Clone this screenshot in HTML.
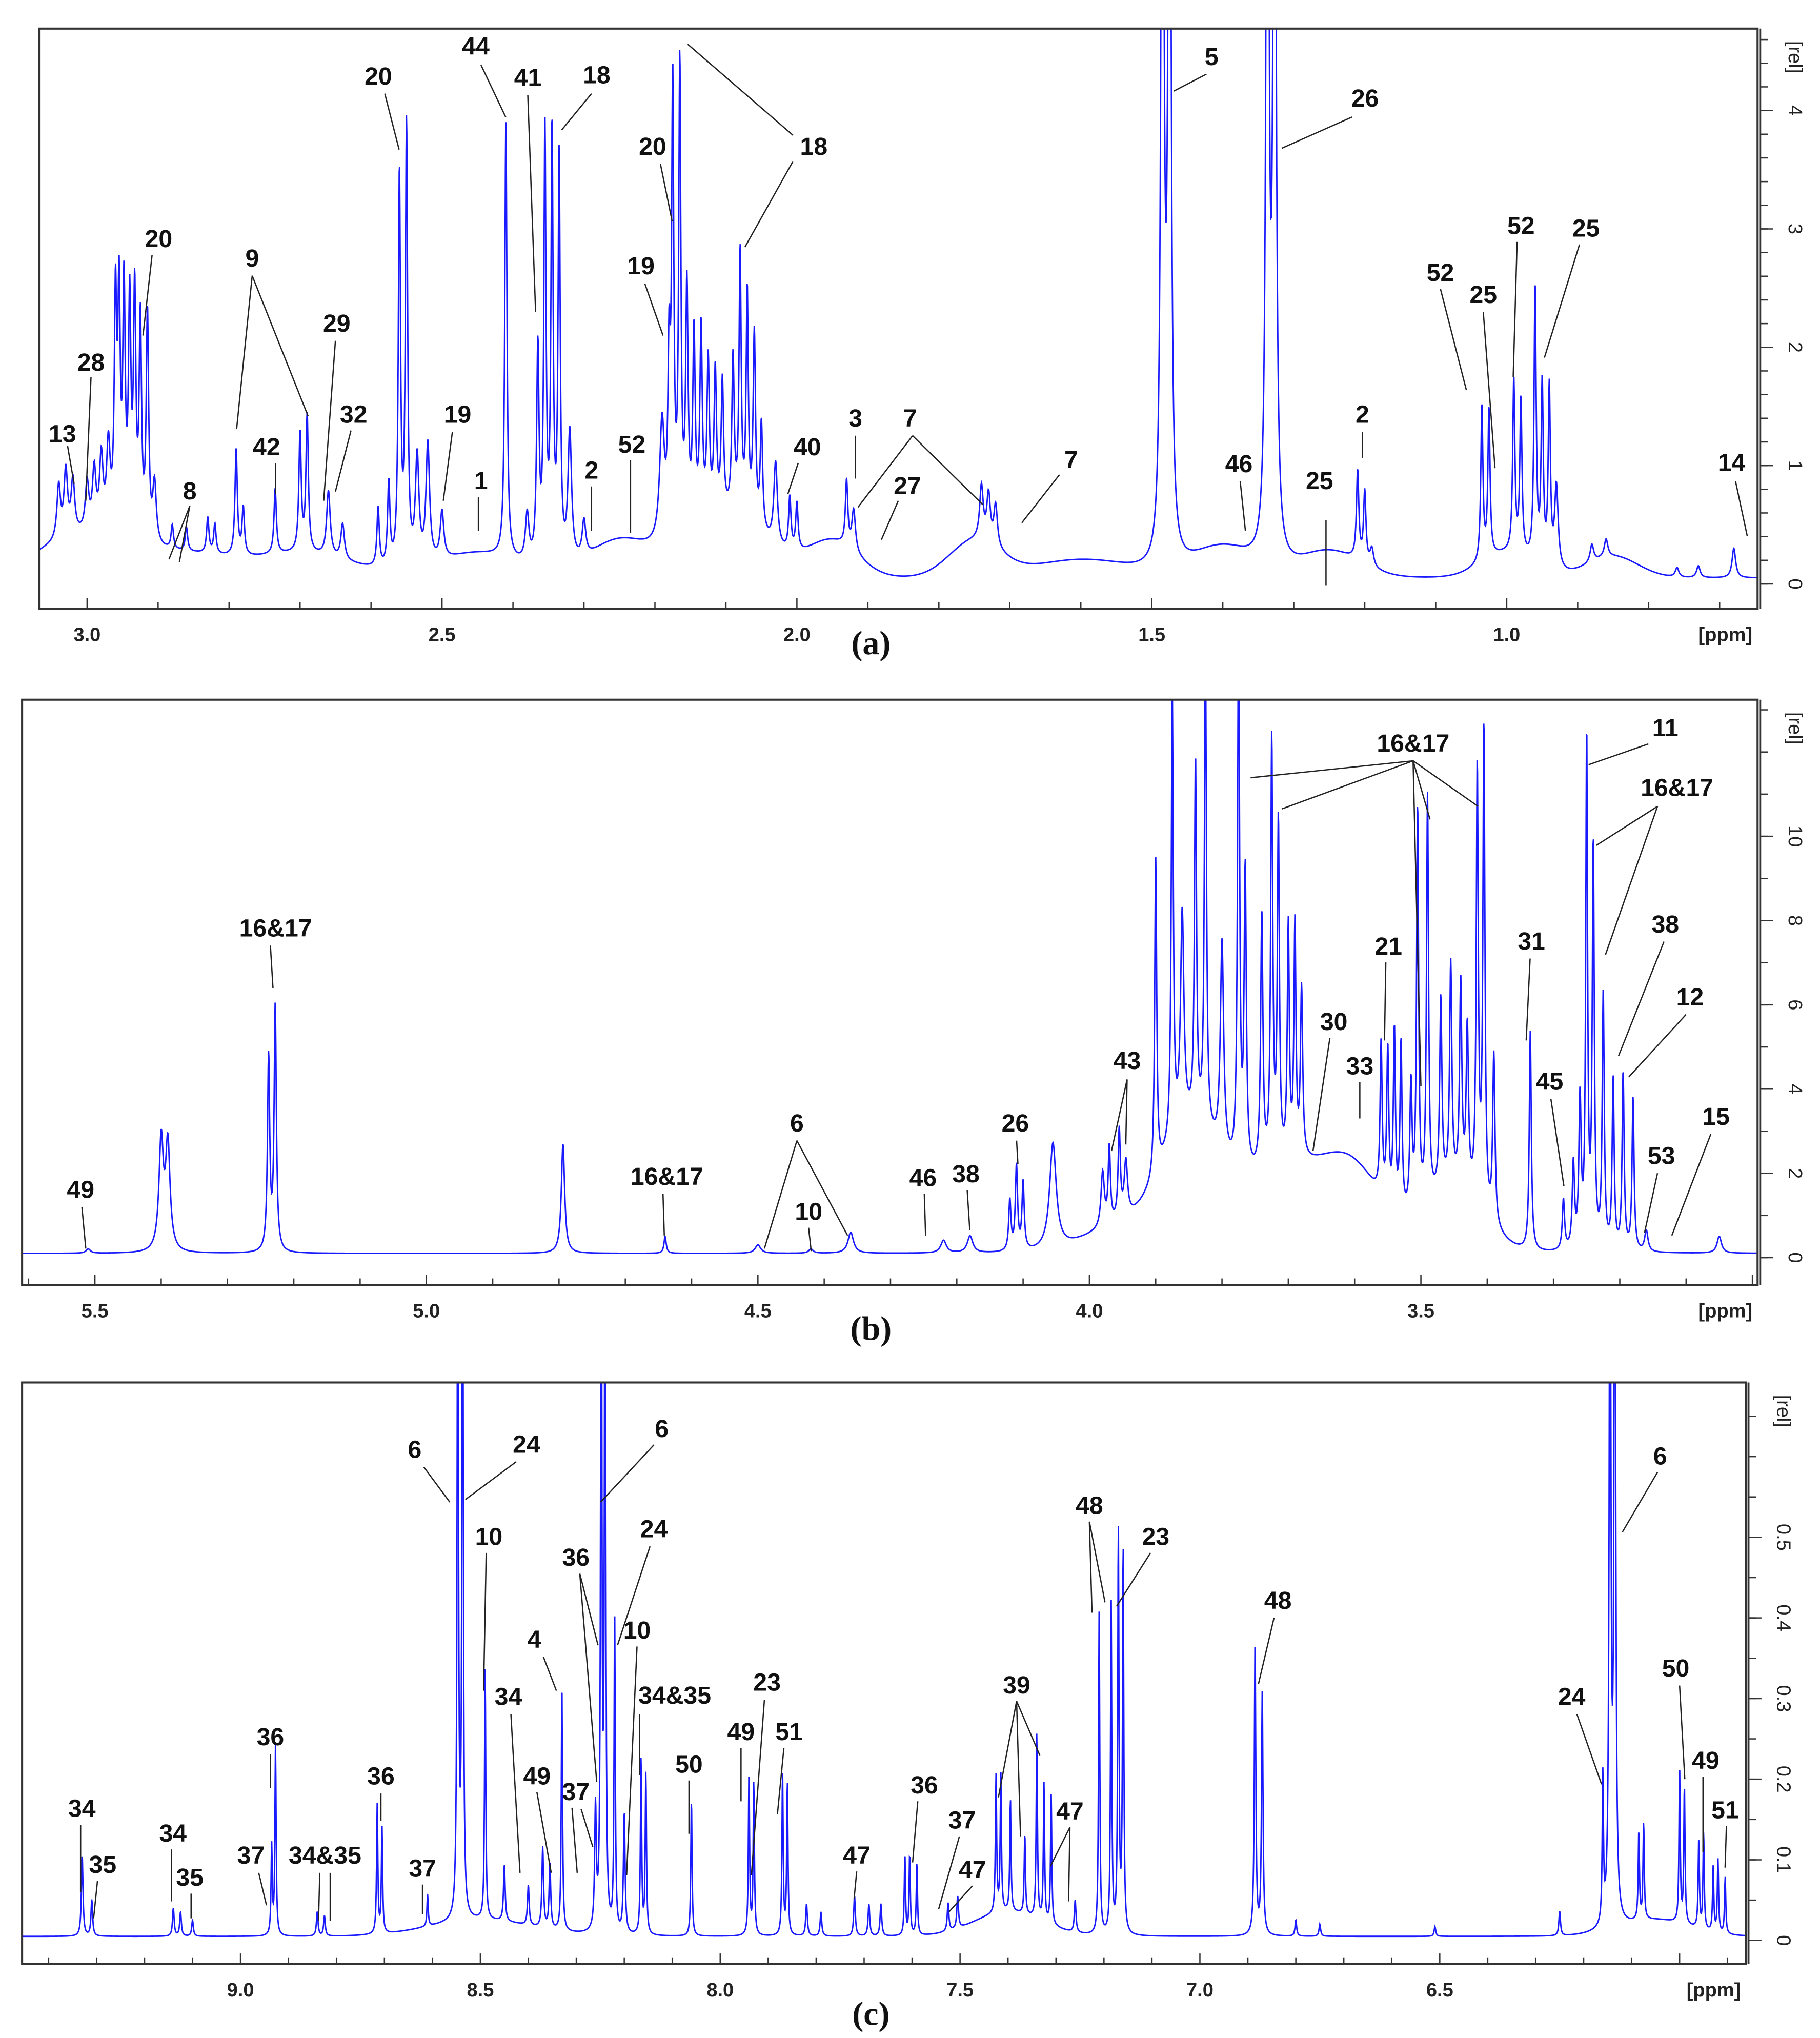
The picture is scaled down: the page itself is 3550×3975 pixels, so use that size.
<!DOCTYPE html>
<html><head><meta charset="utf-8"><style>
html,body{margin:0;padding:0;background:#fff;}
svg{display:block;}
text{font-family:"Liberation Sans",sans-serif;}
.lab{font-weight:bold;font-size:19px;fill:#111;text-anchor:middle;}
.tick{font-size:15px;fill:#222;}
.pl{font-family:"Liberation Serif",serif;font-weight:bold;font-size:26px;fill:#111;text-anchor:middle;}
</style></head><body>
<svg id="chart" width="3550" height="3975" viewBox="0 0 1400 1567" preserveAspectRatio="none" xmlns="http://www.w3.org/2000/svg"></svg>
<script>
// ---------- data ----------
// peaks: [ppm, height, halfwidth]
const peaksA = [
[3.04,0.45,0.003],[3.03,0.55,0.003],[3.02,0.45,0.003],[3.0,0.4,0.003],[2.99,0.5,0.003],[2.98,0.6,0.003],[2.97,0.7,0.003],
[2.96,1.9,0.002],[2.955,1.9,0.002],[2.948,2.0,0.002],[2.94,1.9,0.002],[2.933,2.0,0.002],[2.925,1.8,0.002],[2.915,1.9,0.002],[2.905,0.5,0.003],
[2.88,0.2,0.002],[2.86,0.2,0.002],[2.83,0.3,0.002],[2.82,0.25,0.002],
[2.79,0.9,0.002],[2.78,0.4,0.002],[2.735,0.55,0.002],[2.70,1.0,0.002],[2.69,1.15,0.002],[2.66,0.55,0.003],[2.64,0.3,0.003],
[2.59,0.5,0.002],[2.575,0.7,0.002],[2.56,3.3,0.0018],[2.55,3.7,0.0018],[2.535,0.9,0.003],[2.52,1.0,0.003],[2.50,0.4,0.003],
[2.41,3.7,0.0018],[2.38,0.4,0.003],[2.365,1.8,0.002],[2.355,3.6,0.0018],[2.345,3.6,0.0018],[2.335,3.4,0.0018],[2.32,1.1,0.003],[2.30,0.3,0.003],
[2.19,1.0,0.004],[2.18,1.4,0.002],[2.175,3.7,0.0018],[2.165,3.9,0.0018],[2.155,2.0,0.002],[2.145,1.6,0.002],[2.135,1.6,0.002],[2.125,1.3,0.002],
[2.115,1.2,0.002],[2.105,1.1,0.002],[2.09,1.3,0.002],[2.08,2.2,0.0018],[2.07,1.9,0.0018],[2.06,1.6,0.002],[2.05,0.9,0.002],[2.03,0.7,0.003],
[2.01,0.45,0.002],[2.0,0.4,0.002],[1.93,0.55,0.002],[1.92,0.35,0.003],[1.74,0.45,0.003],[1.73,0.4,0.003],[1.72,0.35,0.003],
[1.485,9,0.0022],[1.475,9,0.0022],[1.337,9,0.0022],[1.327,9,0.0022],
[1.21,0.75,0.002],[1.2,0.6,0.002],[1.19,0.15,0.003],
[1.035,1.3,0.0018],[1.025,1.25,0.0018],[0.99,1.45,0.0018],[0.98,1.3,0.0018],[0.96,2.3,0.0018],[0.95,1.5,0.0018],[0.94,1.5,0.0018],[0.93,0.7,0.003],
[0.88,0.15,0.003],[0.86,0.15,0.003],[0.76,0.08,0.003],[0.73,0.1,0.003],[0.68,0.25,0.003]];
const humpsA = [[3.0,0.35,0.1],[2.85,0.15,0.08],[2.7,0.2,0.1],[2.45,0.2,0.08],[2.25,0.3,0.06],[2.1,0.5,0.08],[1.95,0.3,0.05],[1.75,0.3,0.05],[1.6,0.15,0.1],[1.4,0.25,0.06],[1.25,0.22,0.06],[1.0,0.2,0.05],[0.85,0.18,0.05]];
const peaksB = [
[5.51,0.1,0.004],[5.40,2.6,0.004],[5.39,2.5,0.004],[5.238,4.6,0.002],[5.228,5.8,0.002],[4.794,2.6,0.003],[4.64,0.4,0.002],
[4.5,0.2,0.005],[4.42,0.1,0.004],[4.36,0.5,0.005],[4.22,0.3,0.005],[4.18,0.4,0.005],
[4.12,1.2,0.002],[4.11,2.0,0.002],[4.10,1.6,0.002],[4.055,2.5,0.006],
[3.98,1.3,0.003],[3.97,1.8,0.002],[3.955,2.1,0.002],[3.945,1.3,0.003],
[3.90,7.5,0.0018],[3.875,10.5,0.0018],[3.86,5,0.003],[3.84,8.5,0.0018],[3.825,11.5,0.0018],[3.80,5,0.003],[3.775,13,0.0018],[3.765,7,0.002],
[3.74,6,0.002],[3.725,10,0.0018],[3.715,8,0.0018],[3.70,5.5,0.0018],[3.69,5.5,0.0018],[3.68,4,0.002],
[3.56,3.6,0.0018],[3.55,3.6,0.0018],[3.54,4.2,0.0018],[3.53,4,0.0018],[3.515,3,0.002],
[3.505,9.5,0.0018],[3.49,9.6,0.0018],[3.47,4.5,0.002],[3.455,5.2,0.002],[3.44,4.8,0.002],[3.43,3.8,0.002],
[3.415,10.2,0.0018],[3.405,11.4,0.0018],[3.39,4,0.002],[3.335,5.2,0.0018],
[3.285,1.2,0.002],[3.27,2,0.002],[3.26,3.5,0.002],[3.25,12.1,0.0016],[3.24,9.5,0.0018],[3.225,6,0.0018],[3.21,4,0.0018],[3.195,4.2,0.0018],[3.18,3.6,0.0018],
[3.16,0.5,0.003],[3.05,0.4,0.004]];
const humpsB = [[3.7,2.0,0.12],[3.6,1.2,0.06],[3.85,2.5,0.06],[3.45,1.5,0.06],[3.95,0.6,0.08]];
const peaksC = [
[9.33,0.1,0.002],[9.31,0.045,0.002],[9.14,0.035,0.002],[9.125,0.03,0.002],[9.10,0.02,0.002],
[8.935,0.11,0.0015],[8.927,0.235,0.0015],[8.84,0.03,0.002],[8.825,0.025,0.002],
[8.715,0.16,0.0015],[8.705,0.13,0.0015],[8.61,0.04,0.0015],
[8.547,1.0,0.0015],[8.537,1.0,0.0015],[8.49,0.31,0.0015],[8.45,0.07,0.002],[8.40,0.05,0.002],[8.37,0.1,0.002],[8.355,0.08,0.002],[8.33,0.3,0.0015],
[8.26,0.15,0.002],[8.248,1.0,0.0015],[8.24,1.0,0.0015],[8.22,0.39,0.0015],[8.20,0.15,0.002],[8.165,0.22,0.0015],[8.155,0.2,0.0015],
[8.06,0.17,0.0015],[7.94,0.2,0.0015],[7.93,0.19,0.0015],[7.87,0.2,0.0015],[7.86,0.19,0.0015],[7.82,0.04,0.002],[7.79,0.03,0.002],
[7.72,0.05,0.002],[7.69,0.04,0.002],[7.665,0.04,0.002],[7.615,0.1,0.0015],[7.605,0.1,0.0015],[7.59,0.09,0.0015],[7.525,0.035,0.002],[7.505,0.04,0.002],
[7.425,0.17,0.0015],[7.415,0.17,0.0015],[7.395,0.14,0.0015],[7.365,0.1,0.0015],[7.34,0.23,0.0015],[7.325,0.17,0.0015],[7.31,0.16,0.0015],[7.26,0.04,0.002],
[7.21,0.4,0.0015],[7.185,0.41,0.0015],[7.17,0.5,0.0015],[7.16,0.48,0.0015],
[6.885,0.36,0.0018],[6.87,0.3,0.0018],[6.8,0.02,0.002],[6.75,0.015,0.002],[6.51,0.012,0.002],
[6.25,0.03,0.002],[6.16,0.18,0.0015],[6.145,1.0,0.002],[6.135,1.0,0.002],[6.085,0.11,0.0015],[6.075,0.12,0.0015],
[6.0,0.19,0.0015],[5.99,0.17,0.0015],[5.96,0.11,0.0015],[5.95,0.12,0.0015],[5.93,0.08,0.0015],[5.92,0.09,0.0015],[5.905,0.07,0.0015]];
const humpsC = [[8.5,0.02,0.15],[7.4,0.03,0.1],[6.05,0.02,0.1]];

// axis configs (layout)
const panels = [
 {name:'a',L:30,T:22,R:1352,B:468,p0:3.0,x0:67,pxPer:546,yZero:449,yPer:91,peaks:peaksA,humps:humpsA,base:0.05,
  ticks:[3.0,2.5,2.0,1.5,1.0],tlab:['3.0','2.5','2.0','1.5','1.0'],yt:[0,1,2,3,4],yminor:0.2,ymax:4.8,letter:'(a)',lx:670,ly:503},
 {name:'b',L:17,T:538,R:1352,B:988,p0:5.5,x0:73,pxPer:510,yZero:967,yPer:32.4,peaks:peaksB,humps:humpsB,base:0.1,
  ticks:[5.5,5.0,4.5,4.0,3.5],tlab:['5.5','5.0','4.5','4.0','3.5'],yt:[0,2,4,6,8,10],yminor:1,ymax:13,letter:'(b)',lx:670,ly:1030},
 {name:'c',L:17,T:1063,R:1343,B:1510,p0:9.0,x0:185,pxPer:369,yZero:1492,yPer:620,peaks:peaksC,humps:humpsC,base:0.005,
  ticks:[9.0,8.5,8.0,7.5,7.0,6.5],tlab:['9.0','8.5','8.0','7.5','7.0','6.5'],yt:[0,0.1,0.2,0.3,0.4,0.5],yminor:0.05,ymax:0.68,letter:'(c)',lx:670,ly:1557}
];
const labelsA=[['13',48,340],['28',70,285],['20',122,190],['9',194,205],['42',205,350],['8',146,384],['29',259,255],['32',272,325],['19',352,325],['1',370,376],['2',455,368],['52',486,348],['20',291,65],['44',366,42],['41',406,66],['18',459,64],['20',502,119],['18',626,119],['19',493,211],['40',621,350],['3',658,328],['7',700,328],['27',698,380],['7',824,360],['5',932,50],['26',1050,82],['46',953,363],['25',1015,376],['2',1048,325],['52',1108,216],['25',1141,233],['52',1170,180],['25',1220,182],['14',1332,362]];
const linesA=[[52,343,57,372],[70,290,66,385],[117,196,110,258],[194,212,182,330],[194,212,237,320],[212,356,212,380],[146,389,130,430],[146,389,138,432],[258,262,249,385],[270,331,258,378],[348,332,341,385],[368,382,368,408],[455,374,455,408],[485,354,485,410],[296,72,307,115],[370,50,389,90],[406,73,412,240],[455,72,432,100],[508,126,517,170],[529,34,610,104],[610,124,573,190],[496,218,510,258],[614,356,606,380],[658,335,658,368],[702,335,660,390],[702,335,756,388],[691,385,678,415],[815,365,786,402],[928,57,903,70],[1040,90,986,114],[954,370,958,408],[1020,400,1020,450],[1048,332,1048,352],[1108,222,1128,300],[1141,240,1150,360],[1167,186,1164,290],[1215,188,1188,275],[1335,370,1344,412]];
const labelsB=[['49',62,921],['16&17',212,720],['16&17',513,911],['6',613,870],['10',622,938],['46',710,912],['38',743,909],['26',781,870],['43',867,822],['30',1026,792],['33',1046,826],['21',1068,734],['16&17',1087,578],['31',1178,730],['11',1281,566],['16&17',1290,612],['38',1281,717],['12',1300,773],['45',1192,838],['53',1278,895],['15',1320,865]];
const linesB=[[63,928,66,960],[208,727,210,760],[510,918,511,950],[613,877,588,960],[613,877,652,950],[622,944,624,962],[711,918,712,950],[744,915,746,946],[782,877,783,895],[867,830,855,885],[867,830,866,880],[1023,798,1010,885],[1046,832,1046,860],[1066,740,1065,800],[1087,585,962,598],[1087,585,986,622],[1087,585,1100,630],[1087,585,1137,620],[1087,585,1093,835],[1177,737,1174,800],[1268,572,1222,588],[1275,620,1228,650],[1275,620,1235,734],[1280,724,1245,812],[1297,780,1253,828],[1193,845,1203,912],[1275,902,1265,948],[1316,872,1286,950]];
const labelsC=[['34',63,1397],['35',79,1440],['34',133,1416],['35',146,1450],['36',208,1342],['37',193,1433],['34&35',250,1433],['36',293,1372],['37',325,1443],['6',319,1121],['24',405,1117],['10',376,1188],['34',391,1311],['49',413,1372],['4',411,1267],['37',443,1384],['36',443,1204],['6',509,1105],['24',503,1182],['10',490,1260],['34&35',519,1310],['50',530,1363],['23',590,1300],['49',570,1338],['51',607,1338],['47',659,1433],['36',711,1379],['37',740,1406],['47',748,1444],['39',782,1302],['47',823,1399],['48',838,1164],['23',889,1188],['48',983,1237],['24',1209,1311],['6',1277,1126],['50',1289,1289],['49',1312,1360],['51',1327,1398]];
const linesC=[[62,1403,62,1455],[75,1446,72,1475],[132,1422,132,1462],[147,1456,147,1475],[208,1349,208,1375],[199,1440,205,1465],[246,1440,245,1477],[254,1440,254,1477],[293,1379,293,1400],[325,1449,325,1472],[326,1128,346,1155],[397,1124,358,1153],[374,1194,372,1300],[393,1318,400,1440],[413,1378,424,1440],[418,1274,428,1300],[447,1391,456,1420],[440,1390,444,1440],[446,1210,460,1265],[446,1210,459,1370],[503,1111,462,1155],[500,1189,475,1265],[490,1266,482,1442],[492,1318,492,1365],[530,1369,530,1410],[588,1307,578,1442],[570,1344,570,1385],[603,1344,598,1395],[659,1439,657,1460],[706,1385,702,1432],[738,1412,722,1468],[748,1450,730,1470],[782,1308,768,1382],[782,1308,785,1412],[782,1308,800,1350],[823,1405,808,1435],[823,1405,822,1462],[838,1170,840,1240],[838,1170,850,1232],[885,1194,859,1235],[980,1244,968,1295],[1213,1318,1232,1372],[1275,1132,1248,1178],[1292,1296,1296,1368],[1310,1366,1310,1424],[1328,1404,1327,1436]];
const panelLabels=[labelsA,labelsB,labelsC];
const panelLines=[linesA,linesB,linesC];

// ---------- render ----------
const NS='http://www.w3.org/2000/svg';
const svg=document.getElementById('chart');
function mk(tag,attrs,parent){const e=document.createElementNS(NS,tag);for(const k in attrs)e.setAttribute(k,attrs[k]);(parent||svg).appendChild(e);return e;}
const defs=mk('defs',{});
panels.forEach((P,pi)=>{
  const xs=p=>P.x0+(P.p0-p)*P.pxPer;
  const ys=v=>P.yZero-v*P.yPer;
  const g=mk('g',{});
  
  
  const cp=mk('clipPath',{id:'clip'+pi},defs);
  mk('rect',{x:P.L,y:P.T,width:P.R-P.L,height:P.B-P.T},cp);
  let d='';
  const N=5000;
  for(let i=0;i<=N;i++){
    const x=P.L+(P.R-P.L)*i/N;
    const p=P.p0-(x-P.x0)/P.pxPer;
    let v=P.base;
    for(const [c,h,w] of P.peaks){const t=(p-c)/w;v+=h/(1+t*t);}
    for(const [c,h,w] of P.humps){const t=(p-c)/w;v+=h*Math.exp(-t*t);}
    d+=(i?'L':'M')+x.toFixed(2)+' '+ys(v).toFixed(2);
  }
  const sp=mk('path',{d:d,fill:'none',stroke:'#1a1aff','stroke-width':1.1,'clip-path':'url(#clip'+pi+')'},g);
  
  
  const fr=mk('rect',{x:P.L,y:P.T,width:P.R-P.L,height:P.B-P.T,fill:'none',stroke:'#333','stroke-width':1.6},g);
  
  
  const pmin=P.p0-(P.R-P.x0)/P.pxPer, pmax=P.p0+(P.x0-P.L)/P.pxPer;
  for(let k=Math.ceil(pmin*10);k<=Math.floor(pmax*10);k++){
    const x=xs(k/10);const major=(k%5===0);
    mk('line',{x1:x,y1:P.B,x2:x,y2:P.B-(major?8:5),stroke:'#333','stroke-width':1},g);
  }
  P.ticks.forEach((t,i)=>{
    const tx=mk('text',{x:xs(t),y:P.B+25,'text-anchor':'middle',class:'tick','font-weight':'bold'},g);
    tx.textContent=P.tlab[i];
    
    
  });
  const pu=mk('text',{x:P.R-4,y:P.B+25,'text-anchor':'end',class:'tick','font-weight':'bold'},g);
  pu.textContent='[ppm]';
  
  
  const ax=P.R+2;
  mk('line',{x1:ax,y1:P.T,x2:ax,y2:P.B,stroke:'#333','stroke-width':1.5},g);
  for(let v=0;v<=P.ymax+1e-9;v+=P.yminor){
    const y=ys(v);if(y<P.T)break;
    mk('line',{x1:ax,y1:y,x2:ax+6,y2:y,stroke:'#333','stroke-width':1},g);
  }
  P.yt.forEach(t=>{
    const y=ys(t);
    mk('line',{x1:ax,y1:y,x2:ax+10,y2:y,stroke:'#333','stroke-width':1},g);
    const tx=mk('text',{x:ax+22,y:y,'text-anchor':'middle',class:'tick',transform:'rotate(90 '+(ax+22)+' '+y+')'},g);
    tx.textContent=String(t);
    
    
  });
  const ry=P.T+22;
  const rl=mk('text',{x:ax+22,y:ry,'text-anchor':'middle',class:'tick',transform:'rotate(90 '+(ax+22)+' '+ry+')'},g);
  rl.textContent='[rel]';
  
  
  panelLines[pi].forEach(l=>{
    const ln=mk('line',{x1:l[0],y1:l[1],x2:l[2],y2:l[3],stroke:'#222','stroke-width':1},g);
    
    
  });
  panelLabels[pi].forEach(a=>{
    const t=mk('text',{x:a[1],y:a[2],class:'lab'},g);
    t.textContent=a[0];
    
    
  });
  const pl=mk('text',{x:P.lx,y:P.ly,class:'pl'},g);
  pl.textContent=P.letter;
  
  
});
</script>
</body></html>
